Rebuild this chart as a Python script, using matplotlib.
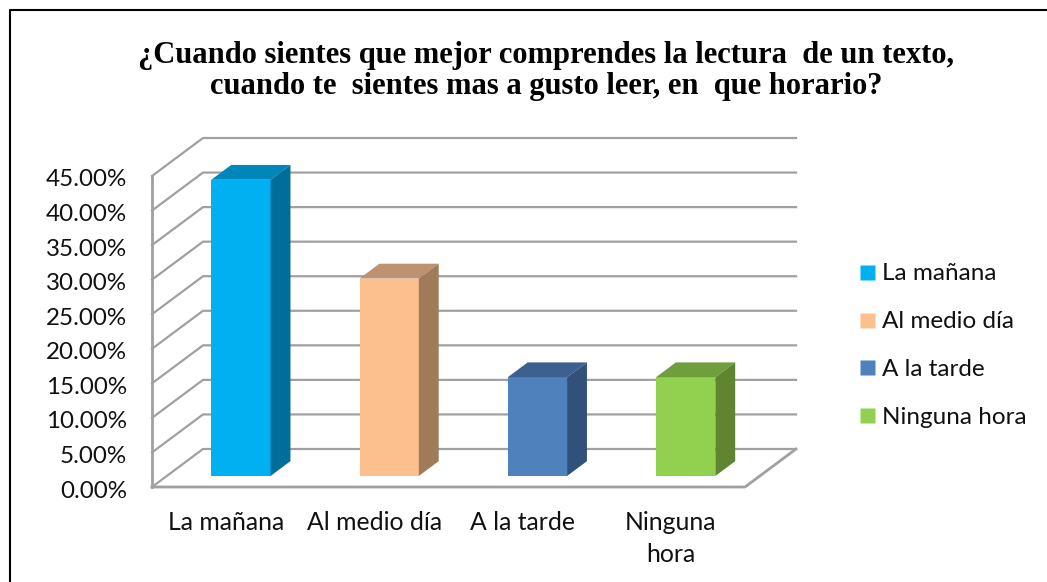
# -*- coding: utf-8 -*-
import matplotlib; matplotlib.use("Agg")
import matplotlib.pyplot as plt
from matplotlib.patches import Polygon, Rectangle
from matplotlib.lines import Line2D
from matplotlib.transforms import ScaledTranslation

categories = ["La mañana", "Al medio día", "A la tarde", "Ninguna hora"]
tick_labels = ["La mañana", "Al medio día", "A la tarde", "Ninguna\nhora"]
values = [42.86, 28.57, 14.29, 14.29]
yticks = [0, 5, 10, 15, 20, 25, 30, 35, 40, 45]
front_colors = ["#00B0F0", "#FBC08E", "#4F81BD", "#92D050"]
top_colors = ["#0086B8", "#BE9170", "#3D618F", "#6F9E3C"]
side_colors = ["#006E99", "#9F7B5A", "#31507A", "#5F8530"]
title = ("¿Cuando sientes que mejor comprendes la lectura  de un texto,\n"
         "cuando te  sientes mas a gusto leer, en  que horario?")

W, H = 1047, 582
GRID = "#A0A0A0"
X0, X1, Y0, Y1 = 152, 745, 487, 176  # front plane in pixels
DX = 51 / ((X1 - X0) / 4)            # wall depth in category units
DY = 38 / ((Y0 - Y1) / 45)           # wall depth in percent units

fig = plt.figure(figsize=(W / 100, H / 100), dpi=100)
plt.rcParams["font.family"] = ["Lato", "DejaVu Sans"]
ax = fig.add_axes([X0 / W, 1 - Y0 / H, (X1 - X0) / W, (Y0 - Y1) / H])
ax.set_xlim(0, 4); ax.set_ylim(0, 45)
ax.patch.set_alpha(0)
for s in ax.spines.values(): s.set_visible(False)

# side wall, back wall and floor lines
for y in yticks:
    ax.plot([0, DX, 4 + DX], [y, y + DY, y + DY], color=GRID, lw=1.6, clip_on=False, zorder=1)
ax.plot([0, 0], [0, 45], color=GRID, lw=2, clip_on=False, zorder=2)
ax.plot([0, 4, 4 + DX], [0, 0, DY], color=GRID, lw=2, clip_on=False, zorder=2)

# bars, sitting part way into the floor
d0, d1 = 0.29, 0.68
bw = 0.40
for i, v in enumerate(values):
    l = i + 0.5 - bw / 2 + d0 * DX
    r = l + bw
    b = d0 * DY
    t = b + v
    dx, dy = (d1 - d0) * DX, (d1 - d0) * DY
    ax.add_patch(Rectangle((l, b), bw, v, fc=front_colors[i], ec="none", zorder=5))
    ax.add_patch(Polygon([(l, t), (r, t), (r + dx, t + dy), (l + dx, t + dy)], fc=top_colors[i], ec="none", zorder=5, clip_on=False))
    ax.add_patch(Polygon([(r, b), (r + dx, b + dy), (r + dx, t + dy), (r, t)], fc=side_colors[i], ec="none", zorder=5, clip_on=False))

ax.set_yticks(yticks)
ax.set_yticklabels([f"{y:.2f}%" for y in yticks], fontsize=17.4, color="#111111")
ax.set_xticks([i + 0.5 for i in range(4)])
ax.set_xticklabels(tick_labels, fontsize=17.8, color="#111111", linespacing=1.5)
ax.tick_params(axis="y", length=0, pad=18)
ax.tick_params(axis="x", length=0, pad=17)
nudge = ScaledTranslation(0, -2 / 100, fig.dpi_scale_trans)
for lab in ax.get_yticklabels():
    lab.set_transform(lab.get_transform() + nudge)

handles = [Line2D([], [], marker="s", ls="none", ms=10.8, mfc=c, mec="none") for c in front_colors]
fig.legend(handles, categories, loc="center left", bbox_to_anchor=(855 / W, 1 - 345.5 / H), frameon=False,
           fontsize=17.5, handlelength=1, handletextpad=0.12, labelspacing=1.1, borderpad=0, borderaxespad=0,
           labelcolor="#111111")

fig.text(546 / W, 1 - 71 / H, title, ha="center", va="center", fontsize=22, fontweight="bold",
         family=["Liberation Serif"], linespacing=1.07)

# frame only shows on the top and left, the rest is cropped away
fig.add_artist(Line2D([9.5 / W, 9.5 / W, 1], [0, 1 - 10 / H, 1 - 10 / H], transform=fig.transFigure, color="black", lw=1.5))
fig.savefig("out.png", dpi=100)
